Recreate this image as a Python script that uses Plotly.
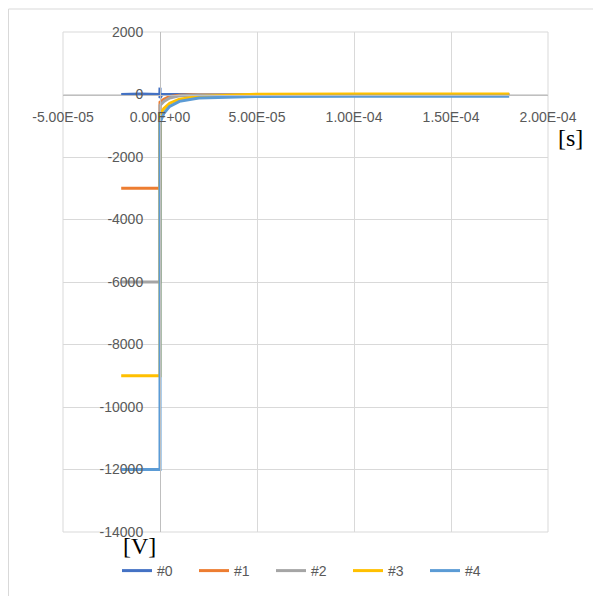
import plotly.graph_objects as go

# ---- data ----
series_names = ["#0", "#1", "#2", "#3", "#4"]

t_0 = [-2.0e-5, -1.0e-5, -1.0e-7, 0.0, 0.0, 1.0e-6, 5.0e-6, 1.0e-5, 5.0e-5, 1.0e-4, 1.5e-4, 1.8e-4]
v_0 = [0, 20, 0, 220, -110, 0, 0, 0, 0, 0, 0, 0]

t_1 = [-2.0e-5, 0.0, 0.0, 2.0e-6, 5.0e-6, 1.0e-5, 2.0e-5, 5.0e-5, 1.0e-4, 1.8e-4]
v_1 = [-3000, -3000, -250, -150, -60, -20, 0, 0, 0, 0]

t_2 = [-2.0e-5, 0.0, 0.0, 2.0e-6, 5.0e-6, 1.0e-5, 2.0e-5, 5.0e-5, 1.0e-4, 1.8e-4]
v_2 = [-6000, -6000, -350, -220, -110, -40, -10, 0, 0, 0]

t_3 = [-2.0e-5, 0.0, 0.0, 2.0e-6, 5.0e-6, 1.0e-5, 2.0e-5, 5.0e-5, 1.0e-4, 1.8e-4]
v_3 = [-9000, -9000, -650, -450, -280, -150, -60, 10, 20, 20]

t_4 = [-2.0e-5, 0.0, 0.0, 2.0e-6, 5.0e-6, 1.0e-5, 2.0e-5, 5.0e-5, 1.0e-4, 1.8e-4]
v_4 = [-12000, -12000, -900, -600, -380, -220, -110, -60, -55, -55]

x_tick_vals = [-5e-5, 0.0, 5e-5, 1e-4, 1.5e-4, 2e-4]
x_tick_text = ["-5.00E-05", "0.00E+00", "5.00E-05", "1.00E-04", "1.50E-04", "2.00E-04"]
y_tick_vals = [2000, 0, -2000, -4000, -6000, -8000, -10000, -12000, -14000]
y_tick_text = ["2000", "0", "-2000", "-4000", "-6000", "-8000", "-10000", "-12000", "-14000"]

colors = ["#4472c4", "#ed7d31", "#a5a5a5", "#ffc000", "#5b9bd5"]

# ---- figure ----
x_range = [-5e-5, 2e-4]
y_range = [-14000, 2000]

fig = go.Figure()
for name, t, v, c in zip(series_names, [t_0, t_1, t_2, t_3, t_4],
                         [v_0, v_1, v_2, v_3, v_4], colors):
    fig.add_trace(go.Scatter(x=t, y=v, mode="lines", name=name,
                             line=dict(color=c, width=3)))

tick_font = dict(family="Liberation Sans, Arial, sans-serif", size=14, color="#595959")
grid_c = "#d9d9d9"

x_pos = (0 - y_range[0]) / (y_range[1] - y_range[0])
y_pos = (0 - x_range[0]) / (x_range[1] - x_range[0])

# plot area on screen: x 63..548, y 32..532 (page has an 8px body margin)
def px(sx):
    return (sx - 63) / 485.0

def py(sy):
    return (532 - sy) / 500.0

fig.update_layout(
    width=601, height=596,
    margin=dict(l=55, r=61, t=24, b=72, autoexpand=False),
    paper_bgcolor="white", plot_bgcolor="white",
    showlegend=True,
    legend=dict(orientation="h", x=px(117), y=py(571), xanchor="left", yanchor="middle",
                font=dict(family="Liberation Sans, Arial, sans-serif", size=14, color="#595959"),
                entrywidth=32, entrywidthmode="pixels",
                bgcolor="rgba(0,0,0,0)"),
    xaxis=dict(range=x_range, tickvals=x_tick_vals, ticktext=x_tick_text,
               showgrid=True, gridcolor=grid_c, gridwidth=1,
               zeroline=False, showline=True, linecolor="#bfbfbf", linewidth=1,
               anchor="free", position=x_pos, ticks="", ticklabelstandoff=10,
               tickfont=tick_font, automargin=False),
    yaxis=dict(range=y_range, tickvals=y_tick_vals, ticktext=y_tick_text,
               showgrid=True, gridcolor=grid_c, gridwidth=1,
               zeroline=False, showline=True, linecolor="#bfbfbf", linewidth=1,
               anchor="free", position=y_pos, ticks="", ticklabelstandoff=14,
               tickfont=tick_font, automargin=False),
    shapes=[
        dict(type="rect", xref="paper", yref="paper", x0=0, x1=1, y0=0, y1=1,
             line=dict(color=grid_c, width=1), layer="below"),
        dict(type="rect", xref="paper", yref="paper",
             x0=px(8.5), x1=px(640), y0=py(640), y1=py(9),
             line=dict(color="#d9d9d9", width=1), layer="below"),
    ],
    annotations=[
        dict(text="[V]", xref="paper", yref="paper",
             x=px(139), y=py(546),
             showarrow=False, xanchor="center", yanchor="middle",
             font=dict(family="Liberation Serif, Times New Roman, serif", size=24, color="black")),
        dict(text="[s]", xref="paper", yref="paper",
             x=px(570), y=py(138),
             showarrow=False, xanchor="center", yanchor="middle",
             font=dict(family="Liberation Serif, Times New Roman, serif", size=24, color="black")),
    ],
)

fig.write_html("out.html")
